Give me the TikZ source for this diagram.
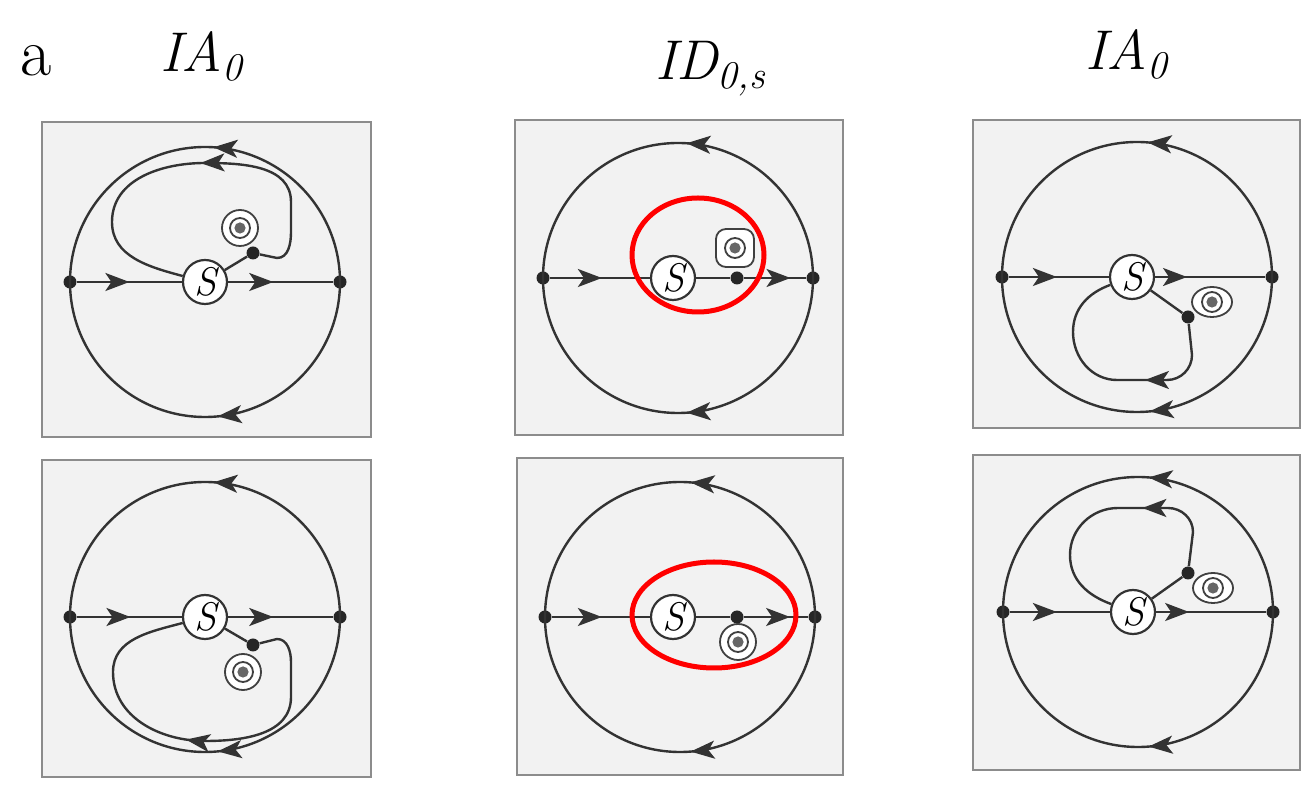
\documentclass[tikz,border=0pt]{standalone}
\usepackage{tikz}
\usetikzlibrary{arrows.meta, shapes.geometric, decorations.markings}

\begin{document}
\begin{tikzpicture}[
  x=0.5pt, y=0.5pt,
  caja/.style={draw=black!45, fill=black!5, line width=1.3pt},
  traj/.style={draw=black!80, line width=1.2pt},
  flecha/.style={postaction={decorate, decoration={markings,
      mark=at position #1 with {\arrow[black!80]{Stealth[length=12pt, width=9pt, inset=3pt]}}}}},
  punto/.style={circle, fill=black!85, inner sep=0pt, minimum size=6.5pt},
  silla/.style={circle, draw=black!80, fill=white, line width=1.1pt,
    inner sep=0pt, minimum size=22pt, font=\fontsize{20}{20}\selectfont\itshape},
  foco/.style={circle, draw=black!75, fill=white, line width=0.9pt,
    inner sep=0pt, minimum size=18pt,
    path picture={
      \draw[black!75, line width=0.9pt] (path picture bounding box.center) circle (5pt);
      \fill[black!60] (path picture bounding box.center) circle (2.8pt);}},
  rojo/.style={draw=red, line width=2.5pt},
  titulo/.style={anchor=base west, inner sep=0pt, font=\fontsize{28}{30}\selectfont\itshape}
]
\fill[white] (0,0) rectangle (1307,787);
\useasboundingbox (0,0) rectangle (1307,787);

% ----- Titulos -----
\node[titulo, font=\fontsize{34}{36}\selectfont] (etiqueta) at (20,711) {a};
\node[titulo] (titulo1) at (160,715) {IA\textsubscript{0}};
\node[titulo] (titulo2) at (655,707) {ID\textsubscript{0,s}};
\node[titulo] (titulo3) at (1085,717) {IA\textsubscript{0}};

% ----- 1. Arriba izquierda -----
\begin{scope}[shift={(205,505)}]
  \draw[caja] (-163,-155) rectangle (166,160);
  \node[punto] (L1) at (-135,0) {};
  \node[punto] (R1) at (135,0) {};
  \node[silla] (S1) at (0,0) {S};
  \node[punto] (d1) at (48,29) {};
  \node[foco] (f1) at (35,54) {};
  \draw[traj, flecha=0.48] (R1.center) arc[start angle=0, end angle=180, radius=135];
  \draw[traj, flecha=0.47] (R1.center) arc[start angle=0, end angle=-180, radius=135];
  \draw[traj, flecha=0.5] (L1) -- (S1);
  \draw[traj, flecha=0.43] (S1) -- (R1);
  \draw[traj] (S1) -- (d1);
  \draw[traj, flecha=0.47] (d1) -- (72,24) to[out=0, in=-90] (86,50) -- (86,80)
    to[out=90, in=0] (0,119) to[out=180, in=90] (-93,60) to[out=-90, in=165] (S1.165);
\end{scope}

% ----- 2. Abajo izquierda -----
\begin{scope}[shift={(205,170)}]
  \draw[caja] (-163,-160) rectangle (166,157);
  \node[punto] (L2) at (-135,0) {};
  \node[punto] (R2) at (135,0) {};
  \node[silla] (S2) at (0,0) {S};
  \node[punto] (d2) at (48,-28) {};
  \node[foco] (f2) at (38,-55) {};
  \draw[traj, flecha=0.48] (R2.center) arc[start angle=0, end angle=180, radius=135];
  \draw[traj, flecha=0.47] (R2.center) arc[start angle=0, end angle=-180, radius=135];
  \draw[traj, flecha=0.51] (L2) -- (S2);
  \draw[traj, flecha=0.43] (S2) -- (R2);
  \draw[traj] (S2) -- (d2);
  \draw[traj, flecha=0.51] (d2) -- (72,-22) to[out=0, in=90] (86,-45) -- (86,-80)
    to[out=-90, in=0] (0,-124) to[out=180, in=-90] (-92,-55) to[out=90, in=-165] (S2.195);
\end{scope}

% ----- 3. Arriba centro -----
\begin{scope}[shift={(678,509)}]
  \draw[caja] (-163,-157) rectangle (165,158);
  \node[punto] (L3) at (-135,0) {};
  \node[punto] (R3) at (135,0) {};
  \node[silla] (S3) at (-5,0) {S};
  \node[punto] (d3) at (59,0) {};
  \node[foco, rectangle, rounded corners=5pt, minimum size=19pt] (f3) at (57,30) {};
  \draw[traj, flecha=0.48] (R3.center) arc[start angle=0, end angle=180, radius=135];
  \draw[traj, flecha=0.48] (R3.center) arc[start angle=0, end angle=-180, radius=135];
  \draw[traj, flecha=0.52] (L3) -- (S3);
  \draw[traj] (S3) -- (d3);
  \draw[traj, flecha=0.75] (d3) -- (R3);
  \draw[rojo] (20,23) ellipse[x radius=66, y radius=57];
\end{scope}

% ----- 4. Abajo centro -----
\begin{scope}[shift={(680,170)}]
  \draw[caja] (-163,-158) rectangle (163,159);
  \node[punto] (L4) at (-135,0) {};
  \node[punto] (R4) at (135,0) {};
  \node[silla] (S4) at (-7,0) {S};
  \node[punto] (d4) at (57,0) {};
  \node[foco] (f4) at (58,-25) {};
  \draw[traj, flecha=0.475] (R4.center) arc[start angle=0, end angle=180, radius=135];
  \draw[traj, flecha=0.475] (R4.center) arc[start angle=0, end angle=-180, radius=135];
  \draw[traj, flecha=0.51] (L4) -- (S4);
  \draw[traj] (S4) -- (d4);
  \draw[traj, flecha=0.72] (d4) -- (R4);
  \draw[rojo] (34,2) ellipse[x radius=82, y radius=53];
\end{scope}

% ----- 5. Arriba derecha -----
\begin{scope}[shift={(1137,510)}]
  \draw[caja] (-164,-151) rectangle (163,157);
  \node[punto] (L5) at (-135,0) {};
  \node[punto] (R5) at (135,0) {};
  \node[silla] (S5) at (-5,0) {S};
  \node[punto] (d5) at (51,-40) {};
  \node[foco, ellipse, minimum width=20pt, minimum height=15pt] (f5) at (75,-25) {};
  \draw[traj, flecha=0.475] (R5.center) arc[start angle=0, end angle=180, radius=135];
  \draw[traj, flecha=0.47] (R5.center) arc[start angle=0, end angle=-180, radius=135];
  \draw[traj, flecha=0.48] (L5) -- (S5);
  \draw[traj, flecha=0.29] (S5) -- (R5);
  \draw[traj] (S5) -- (d5);
  \draw[traj, flecha=0.36] (d5) -- (55,-78) to[out=-90, in=0] (30,-103) -- (-20,-103)
    to[out=180, in=-90] (-64,-55) to[out=90, in=200] (S5.200);
\end{scope}

% ----- 6. Abajo derecha -----
\begin{scope}[shift={(1138,175)}]
  \draw[caja] (-165,-158) rectangle (162,157);
  \node[punto] (L6) at (-135,0) {};
  \node[punto] (R6) at (135,0) {};
  \node[silla] (S6) at (-5,0) {S};
  \node[punto] (d6) at (50,39) {};
  \node[foco, ellipse, minimum width=20pt, minimum height=15pt] (f6) at (75,24) {};
  \draw[traj, flecha=0.475] (R6.center) arc[start angle=0, end angle=180, radius=135];
  \draw[traj, flecha=0.475] (R6.center) arc[start angle=0, end angle=-180, radius=135];
  \draw[traj, flecha=0.47] (L6) -- (S6);
  \draw[traj, flecha=0.30] (S6) -- (R6);
  \draw[traj] (S6) -- (d6);
  \draw[traj, flecha=0.37] (d6) -- (55,80) to[out=90, in=0] (30,104) -- (-20,104)
    to[out=180, in=90] (-68,57) to[out=-90, in=160] (S6.160);
\end{scope}

\end{tikzpicture}
\end{document}
